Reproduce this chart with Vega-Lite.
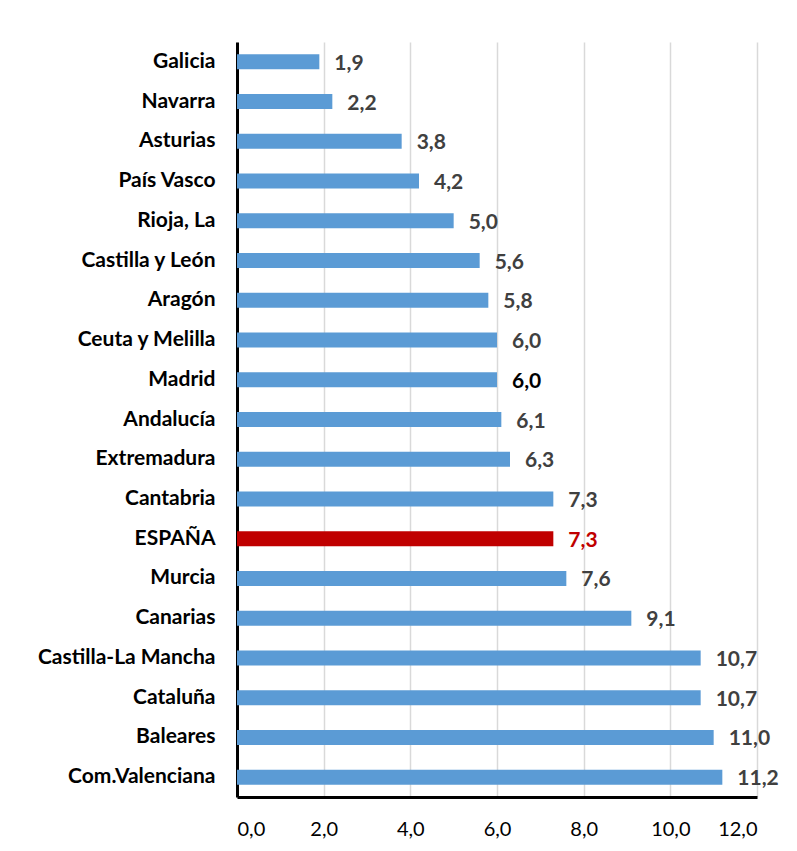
{
  "$schema": "https://vega.github.io/schema/vega-lite/v6.json",
  "width": 520,
  "height": 755,
  "autosize": "none",
  "padding": {"left": 237, "top": 42, "right": 40, "bottom": 54},
  "background": "white",
  "config": {
    "locale": {"number": {"decimal": ",", "thousands": ".", "grouping": [3], "currency": ["", " €"]}},
    "view": {"stroke": null},
    "font": "Lato"
  },
  "data": {
    "values": [
      {"region": "Galicia", "value": 1.9},
      {"region": "Navarra", "value": 2.2},
      {"region": "Asturias", "value": 3.8},
      {"region": "País Vasco", "value": 4.2},
      {"region": "Rioja, La", "value": 5.0},
      {"region": "Castilla y León", "value": 5.6},
      {"region": "Aragón", "value": 5.8},
      {"region": "Ceuta y Melilla", "value": 6.0},
      {"region": "Madrid", "value": 6.0},
      {"region": "Andalucía", "value": 6.1},
      {"region": "Extremadura", "value": 6.3},
      {"region": "Cantabria", "value": 7.3},
      {"region": "ESPAÑA", "value": 7.3},
      {"region": "Murcia", "value": 7.6},
      {"region": "Canarias", "value": 9.1},
      {"region": "Castilla-La Mancha", "value": 10.7},
      {"region": "Cataluña", "value": 10.7},
      {"region": "Baleares", "value": 11.0},
      {"region": "Com.Valenciana", "value": 11.2}
    ]
  },
  "encoding": {
    "y": {
      "field": "region", "type": "nominal", "sort": null,
      "axis": {
        "title": null, "ticks": false, "labelFont": "Lato", "labelFontWeight": "bold",
        "labelFontSize": 21, "labelColor": "#000000", "labelPadding": 22, "labelLimit": 400,
        "domainColor": "#000000", "domainWidth": 3
      }
    },
    "x": {
      "field": "value", "type": "quantitative",
      "scale": {"domain": [0, 12], "nice": false},
      "axis": {
        "title": null, "values": [0, 2, 4, 6, 8, 10, 12], "format": ".1f",
        "ticks": false, "labelFont": "Lato", "labelFontSize": 20, "labelColor": "#000000",
        "labelPadding": 22, "domainColor": "#000000", "domainWidth": 3,
        "grid": true, "gridColor": "#D9D9D9", "gridWidth": 1.5
      }
    }
  },
  "layer": [
    {
      "mark": {"type": "bar", "size": 15},
      "encoding": {
        "color": {
          "condition": {"test": "datum.region === 'ESPAÑA'", "value": "#C00000"},
          "value": "#5B9BD5"
        }
      }
    },
    {
      "mark": {"type": "text", "align": "left", "baseline": "middle", "dx": 15, "dy": 2, "fontSize": 21, "fontWeight": "bold", "font": "Lato"},
      "encoding": {
        "text": {"field": "value", "type": "quantitative", "format": ".1f"},
        "color": {
          "condition": [
            {"test": "datum.region === 'ESPAÑA'", "value": "#C00000"},
            {"test": "datum.region === 'Madrid'", "value": "#000000"}
          ],
          "value": "#404040"
        }
      }
    }
  ]
}
